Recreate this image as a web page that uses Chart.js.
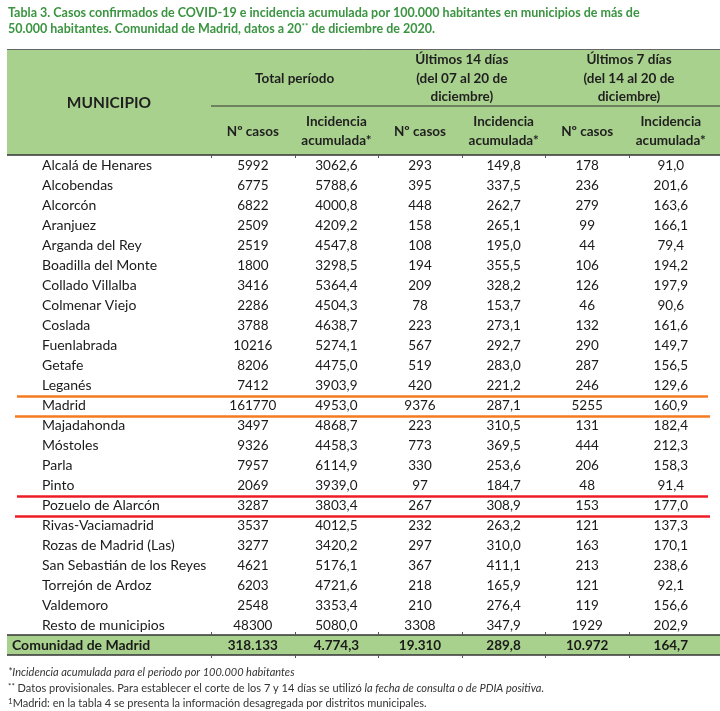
<!DOCTYPE html>
<html lang="es">
<head>
<meta charset="UTF-8" />
<title>Tabla 3. COVID-19 en municipios de la Comunidad de Madrid</title>
<script src="https://cdn.jsdelivr.net/npm/chart.js@4.4.0/dist/chart.umd.min.js"></script>
<style>
  html, body { margin: 0; padding: 0; background: #fff; }
  #wrap { width: 720px; height: 711px; position: relative; }
</style>
</head>
<body>
<div id="wrap"><canvas id="tabla"></canvas></div>
<script>
// filas de la tabla
var municipios = [
  "Alcalá de Henares", "Alcobendas", "Alcorcón", "Aranjuez", "Arganda del Rey",
  "Boadilla del Monte", "Collado Villalba", "Colmenar Viejo", "Coslada", "Fuenlabrada",
  "Getafe", "Leganés", "Madrid", "Majadahonda", "Móstoles", "Parla", "Pinto",
  "Pozuelo de Alarcón", "Rivas-Vaciamadrid", "Rozas de Madrid (Las)",
  "San Sebastián de los Reyes", "Torrejón de Ardoz", "Valdemoro", "Resto de municipios"
];
var casosTotal = [5992, 6775, 6822, 2509, 2519, 1800, 3416, 2286, 3788, 10216, 8206, 7412,
  161770, 3497, 9326, 7957, 2069, 3287, 3537, 3277, 4621, 6203, 2548, 48300];
var iaTotal = [3062.6, 5788.6, 4000.8, 4209.2, 4547.8, 3298.5, 5364.4, 4504.3, 4638.7, 5274.1,
  4475.0, 3903.9, 4953.0, 4868.7, 4458.3, 6114.9, 3939.0, 3803.4, 4012.5, 3420.2, 5176.1,
  4721.6, 3353.4, 5080.0];
var casos14 = [293, 395, 448, 158, 108, 194, 209, 78, 223, 567, 519, 420, 9376, 223, 773, 330,
  97, 267, 232, 297, 367, 218, 210, 3308];
var ia14 = [149.8, 337.5, 262.7, 265.1, 195.0, 355.5, 328.2, 153.7, 273.1, 292.7, 283.0, 221.2,
  287.1, 310.5, 369.5, 253.6, 184.7, 308.9, 263.2, 310.0, 411.1, 165.9, 276.4, 347.9];
var casos7 = [178, 236, 279, 99, 44, 106, 126, 46, 132, 290, 287, 246, 5255, 131, 444, 206, 48,
  153, 121, 163, 213, 121, 119, 1929];
var ia7 = [91.0, 201.6, 163.6, 166.1, 79.4, 194.2, 197.9, 90.6, 161.6, 149.7, 156.5, 129.6,
  160.9, 182.4, 212.3, 158.3, 91.4, 177.0, 137.3, 170.1, 238.6, 92.1, 156.6, 202.9];

var filaTotal = "Comunidad de Madrid";
var totalComunidad = [318133, 4774.3, 19310, 289.8, 10972, 164.7];

// cabeceras
var columnas = [["Nº casos"], ["Incidencia", "acumulada*"], ["Nº casos"], ["Incidencia", "acumulada*"],
  ["Nº casos"], ["Incidencia", "acumulada*"]];
var grupos = [["Total período"], ["Últimos 14 días", "(del 07 al 20 de", "diciembre)"],
  ["Últimos 7 días", "(del 14 al 20 de", "diciembre)"]];
var destacados = ["Madrid", "Pozuelo de Alarcón"];

var FUENTE = "Lato, 'Open Sans', sans-serif";
var VERDE = "#a9d18e";

var filas = municipios.concat([filaTotal]);
var series = [casosTotal, iaTotal, casos14, ia14, casos7, ia7];
var decimales = [false, true, false, true, false, true];

function fmt(v, dec, miles) {
  var s = dec ? v.toFixed(1) : String(Math.round(v));
  var partes = s.split(".");
  var ent = partes[0];
  if (miles) ent = ent.replace(/\B(?=(\d{3})+(?!\d))/g, ".");
  return partes.length > 1 ? ent + "," + partes[1] : ent;
}

function textoMixto(ctx, x, y, partes) {
  partes.forEach(function (p) {
    ctx.font = p.font;
    ctx.fillText(p.t, x, y + (p.dy || 0));
    x += ctx.measureText(p.t).width;
  });
}

function linea(ctx, x1, y1, x2, y2, color, ancho) {
  ctx.beginPath();
  ctx.strokeStyle = color;
  ctx.lineWidth = ancho;
  ctx.moveTo(x1, y1);
  ctx.lineTo(x2, y2);
  ctx.stroke();
}

var datasets = series.map(function (serie, c) {
  return {
    label: "col" + c,
    data: serie.concat([totalComunidad[c]]).map(function (v, i) {
      return { x: c, y: i, v: v };
    }),
    pointRadius: 0,
    pointHoverRadius: 0,
    showLine: false
  };
});

var tablaPlugin = {
  id: "tabla",
  beforeDraw: function (chart) {
    var ctx = chart.ctx, xs = chart.scales.x, ys = chart.scales.y;
    var W = chart.width;
    var paso = ys.getPixelForValue(1) - ys.getPixelForValue(0);
    var yTot = ys.getPixelForValue(filas.length - 1);
    ctx.save();
    ctx.fillStyle = "#fff";
    ctx.fillRect(0, 0, W, chart.height);
    ctx.fillStyle = VERDE;
    ctx.fillRect(7, xs.top, W - 7, xs.bottom - xs.top);
    ctx.fillRect(7, yTot - paso / 2, W - 7, paso);

    // título
    ctx.fillStyle = "#3a9440";
    ctx.textAlign = "left";
    ctx.textBaseline = "middle";
    var fb = "bold 12.5px " + FUENTE, fs = "bold 8px " + FUENTE;
    textoMixto(ctx, 8, 12.5, [{ t: "Tabla 3. Casos confirmados de COVID-19 e incidencia acumulada por 100.000 habitantes en municipios de más de", font: fb }]);
    textoMixto(ctx, 8, 29, [
      { t: "50.000 habitantes. Comunidad de Madrid, datos a 20", font: fb },
      { t: "**", font: fs, dy: -3 },
      { t: " de diciembre de 2020.", font: fb }
    ]);

    // notas
    ctx.fillStyle = "#333";
    var fn = "11px " + FUENTE, fi = "italic 11px " + FUENTE, fsup = "8px " + FUENTE;
    textoMixto(ctx, 8, 672, [{ t: "*Incidencia acumulada para el periodo por 100.000 habitantes", font: fi }]);
    textoMixto(ctx, 8, 688, [
      { t: "**", font: fsup, dy: -2 },
      { t: " Datos provisionales. Para establecer el corte de los 7 y 14 días se utilizó ", font: fn },
      { t: "la fecha de consulta o de PDIA positiva", font: fi },
      { t: ".", font: fn }
    ]);
    textoMixto(ctx, 8, 703, [
      { t: "1", font: fsup, dy: -2 },
      { t: "Madrid: en la tabla 4 se presenta la información desagregada por distritos municipales.", font: fn }
    ]);
    ctx.restore();
  },
  afterDatasetsDraw: function (chart) {
    var ctx = chart.ctx, ys = chart.scales.y;
    var ultimo = filas.length - 1;
    ctx.save();
    ctx.textBaseline = "middle";
    ctx.fillStyle = "#1a1a1a";
    ctx.textAlign = "center";
    chart.data.datasets.forEach(function (ds, c) {
      chart.getDatasetMeta(c).data.forEach(function (pt, i) {
        var esTotal = i === ultimo;
        ctx.font = (esTotal ? "bold " : "") + "13.5px " + FUENTE;
        ctx.fillText(fmt(ds.data[i].v, decimales[c], esTotal), pt.x, pt.y + 0.5);
      });
    });
    ctx.textAlign = "left";
    filas.forEach(function (nombre, i) {
      var y = ys.getPixelForValue(i) + 0.5;
      if (i === ultimo) {
        ctx.font = "bold 14px " + FUENTE;
        ctx.fillText(nombre, 12, y);
      } else {
        ctx.font = "14px " + FUENTE;
        ctx.fillText(nombre, 42, y);
      }
    });
    ctx.restore();
  },
  afterDraw: function (chart) {
    var ctx = chart.ctx, xs = chart.scales.x, ys = chart.scales.y;
    var W = chart.width;
    var area = chart.chartArea;
    var pasoX = xs.getPixelForValue(1) - xs.getPixelForValue(0);
    var paso = ys.getPixelForValue(1) - ys.getPixelForValue(0);
    var yTot = ys.getPixelForValue(filas.length - 1);
    var yMedio = xs.top + 57;
    ctx.save();

    // cabeceras de grupo
    ctx.fillStyle = "#1f1f1f";
    ctx.textAlign = "center";
    ctx.textBaseline = "middle";
    ctx.font = "bold 13.5px " + FUENTE;
    grupos.forEach(function (g, k) {
      var cx = (xs.getPixelForValue(2 * k) + xs.getPixelForValue(2 * k + 1)) / 2;
      g.forEach(function (t, j) {
        ctx.fillText(t, cx, xs.top + 29.5 + (j - (g.length - 1) / 2) * 18.5);
      });
    });
    ctx.font = "bold 15.5px " + FUENTE;
    ctx.fillText("MUNICIPIO", (7 + area.left) / 2, xs.top + 54);

    // líneas de la cabecera y del total
    linea(ctx, 7, xs.top + 0.5, W, xs.top + 0.5, "#666", 1);
    linea(ctx, area.left, yMedio, W, yMedio, "#333", 1);
    linea(ctx, 7, area.top, W, area.top, "#333", 1.5);
    linea(ctx, 7, yTot - paso / 2, W, yTot - paso / 2, "#333", 1.5);
    linea(ctx, 7, yTot + paso / 2, W, yTot + paso / 2, "#333", 1.5);
    for (var c = 0; c < columnas.length; c++) {
      var bx = Math.round(xs.getPixelForValue(c) - pasoX / 2) + 0.5;
      linea(ctx, bx, area.top, bx, area.top + 3, "#555", 1);
      linea(ctx, bx, yTot - paso / 2 - 3, bx, yTot - paso / 2, "#555", 1);
      linea(ctx, bx, yTot + paso / 2, bx, yTot + paso / 2 + 3, "#555", 1);
    }

    // filas destacadas
    var colores = ["#f47b20", "#ee1c25"];
    destacados.forEach(function (nombre, k) {
      var yc = ys.getPixelForValue(filas.indexOf(nombre));
      linea(ctx, 17, yc - paso / 2 + 1.5, W - 12, yc - paso / 2 + 1.5, colores[k], 2.5);
      linea(ctx, 15, yc + paso / 2 + 1.5, W - 10, yc + paso / 2 + 1.5, colores[k], 2.5);
    });
    ctx.restore();
  }
};

Chart.defaults.font.family = FUENTE;

new Chart(document.getElementById("tabla"), {
  type: "scatter",
  data: {
    xLabels: columnas,
    yLabels: filas,
    datasets: datasets
  },
  options: {
    responsive: true,
    maintainAspectRatio: false,
    animation: false,
    parsing: false,
    events: [],
    layout: { padding: { top: 49, left: 211, right: 2, bottom: 56 } },
    plugins: {
      legend: { display: false },
      tooltip: { enabled: false },
      title: { display: false }
    },
    scales: {
      x: {
        type: "category",
        position: "top",
        offset: true,
        grid: { display: false, drawTicks: false, tickLength: 0 },
        border: { display: false },
        afterFit: function (scale) { scale.height = 106; },
        ticks: {
          autoSkip: false,
          maxRotation: 0,
          minRotation: 0,
          crossAlign: "center",
          padding: 14,
          color: "#1f1f1f",
          font: { size: 13.5, weight: "bold", lineHeight: "19px" }
        }
      },
      y: {
        type: "category",
        offset: true,
        display: false
      }
    }
  },
  plugins: [tablaPlugin]
});
</script>
</body>
</html>
